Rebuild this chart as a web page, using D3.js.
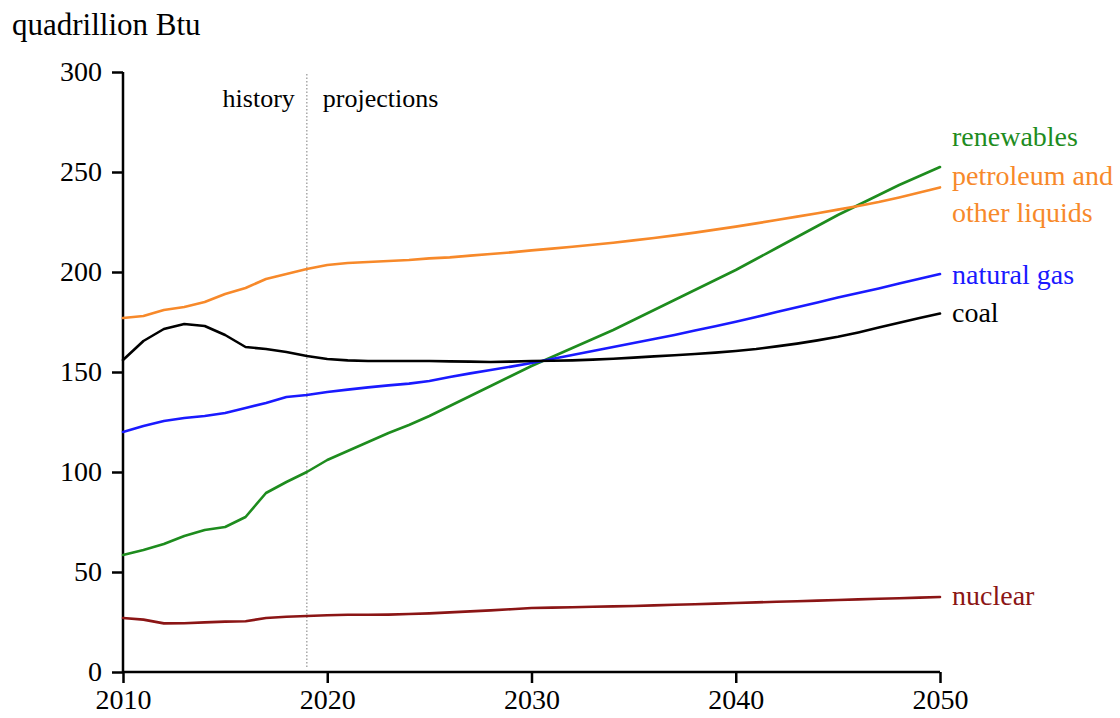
<!DOCTYPE html>
<html><head><meta charset="utf-8">
<script src="https://cdn.jsdelivr.net/npm/d3@7"></script>
<style>
html,body{margin:0;padding:0;background:#fff;}
text{font-family:"Liberation Serif","Times New Roman",serif;}
</style></head>
<body>
<svg id="chart" width="1120" height="718"></svg>
<script>
const years = d3.range(2010, 2051);
const renewables = [58.5,61,64,68,71,72.5,77.5,89.5,95,100,106,110.5,115,119.5,123.5,128,133,138,143,148,153,157.5,162,166.5,171,176,181,186,191,196,201,206.5,212,217.5,223,228.5,233.5,238.5,243.5,248,252.5];
const petroleum = [177,178,181,182.5,185,189,192,196.5,199,201.5,203.5,204.5,205,205.5,206,206.8,207.3,208.2,209,209.8,210.8,211.7,212.6,213.6,214.6,215.8,217,218.3,219.7,221.2,222.7,224.3,226,227.7,229.4,231.2,233,235,237.3,239.8,242.3];
const naturalGas = [120,123,125.5,127,128,129.5,132,134.5,137.5,138.5,140,141.2,142.3,143.3,144.2,145.5,147.5,149.3,151,152.7,154.5,156.5,158.5,160.5,162.5,164.5,166.5,168.5,170.7,172.9,175.1,177.5,180,182.4,184.8,187.2,189.5,191.8,194.2,196.6,199];
const coal = [156,165.5,171.5,174,173,168.5,162.5,161.5,160,158,156.5,155.8,155.5,155.5,155.5,155.5,155.3,155.2,155,155.2,155.5,155.6,155.8,156.2,156.6,157.2,157.8,158.4,159,159.7,160.5,161.5,162.8,164.2,165.8,167.6,169.8,172.2,174.6,177,179.2];
const nuclear = [27,26.2,24.3,24.4,24.8,25.2,25.4,27,27.6,28,28.4,28.6,28.6,28.7,29,29.3,29.8,30.3,30.8,31.4,32,32.2,32.4,32.6,32.8,33,33.3,33.6,33.9,34.2,34.5,34.8,35.1,35.4,35.7,36,36.3,36.6,36.9,37.2,37.5];
const yTicks = [0,50,100,150,200,250,300];
const xTicks = [2010,2020,2030,2040,2050];
const historyEnd = 2019;

const series = [
  {name:"renewables", values:renewables, color:"#1e8c1e", labels:["renewables"], ly:[146]},
  {name:"petroleum", values:petroleum, color:"#f7892a", labels:["petroleum and","other liquids"], ly:[185,222]},
  {name:"natural gas", values:naturalGas, color:"#1a1aff", labels:["natural gas"], ly:[284]},
  {name:"coal", values:coal, color:"#000000", labels:["coal"], ly:[322]},
  {name:"nuclear", values:nuclear, color:"#8b1515", labels:["nuclear"], ly:[605]}
];

const svg = d3.select("#chart");
const x = d3.scaleLinear().domain([2010,2050]).range([123,940]);
const y = d3.scaleLinear().domain([0,300]).range([672,72]);

// history/projections divider
svg.append("line")
  .attr("x1", x(historyEnd)).attr("x2", x(historyEnd))
  .attr("y1", y(300)+2).attr("y2", y(0)-4)
  .attr("stroke","#9a9a9a").attr("stroke-width",1.3).attr("stroke-dasharray","1.5,2");
svg.append("text").attr("x", x(historyEnd)-12).attr("y",107).attr("text-anchor","end")
  .attr("font-size",26).text("history");
svg.append("text").attr("x", x(historyEnd)+16).attr("y",107).attr("text-anchor","start")
  .attr("font-size",26).text("projections");

// axes
const yAxis = svg.append("g").attr("transform","translate(123,0)")
  .call(d3.axisLeft(y).tickValues(yTicks).tickSize(11).tickPadding(10).tickFormat(d3.format("d")));
const xAxis = svg.append("g").attr("transform","translate(0,672)")
  .call(d3.axisBottom(x).tickValues(xTicks).tickSize(11).tickPadding(6).tickFormat(d3.format("d")));
[yAxis,xAxis].forEach(a=>{
  a.select(".domain").attr("stroke","#000").attr("stroke-width",2.5);
  a.selectAll(".tick line").attr("stroke","#000").attr("stroke-width",2.5);
  a.selectAll(".tick text").attr("font-size",28).attr("fill","#000")
   .attr("font-family","'Liberation Serif','Times New Roman',serif");
});
yAxis.select(".domain").attr("d","M0,72V672");
xAxis.select(".domain").attr("d","M123,0H940");

svg.append("text").attr("x",12).attr("y",35).attr("font-size",31).text("quadrillion Btu");

const line = d3.line().x((d,i)=>x(years[i])).y(d=>y(d));
series.forEach(s=>{
  svg.append("path").datum(s.values).attr("d",line)
    .attr("fill","none").attr("stroke",s.color).attr("stroke-width",2.6)
    .attr("stroke-linejoin","round").attr("stroke-linecap","round");
  s.labels.forEach((t,i)=>{
    svg.append("text").attr("x",952).attr("y",s.ly[i]).attr("font-size",28)
      .attr("fill",s.color).text(t);
  });
});
</script>
</body></html>
